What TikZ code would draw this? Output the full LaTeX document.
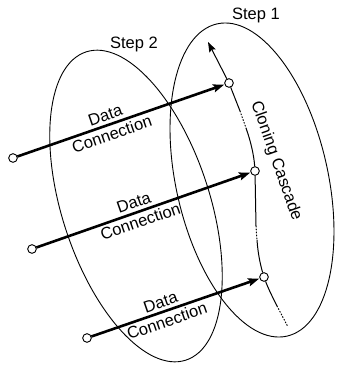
\documentclass[tikz,border=0pt]{standalone}
\usepackage{fontspec}
\setmainfont{Liberation Sans}
\usetikzlibrary{arrows.meta}

\begin{document}
\begin{tikzpicture}[x=1pt,y=1pt,
  every node/.style={font=\fontsize{16.5}{20}\selectfont},
  ring/.style={line width=0.9pt},
  port/.style={circle,draw,fill=white,line width=0.8pt,inner sep=0pt,minimum size=8.5pt},
  conn/.style={line width=2.6pt,-{Stealth[length=11pt,width=8pt,inset=2pt]},shorten >=0.5pt},
  lbl/.style={sloped,align=center,inner sep=0pt},
  casc/.style={line width=1pt},
  gap/.style={line width=1pt,dotted,line cap=round}]
\useasboundingbox (0,0) rectangle (337,-365);

% the two step regions
\draw[ring,rotate around={17.9:(136,-206)}] (136,-206) ellipse [x radius=74pt, y radius=162pt];
\draw[ring,rotate around={12.6:(252,-180)}] (252,-180) ellipse [x radius=76pt, y radius=160pt];

% cascade endpoints
\node[port] (r1) at (229,-83) {};
\node[port] (r2) at (255,-171) {};
\node[port] (r3) at (264,-277) {};
\coordinate (top) at (208,-42);
\coordinate (a1) at (240,-111);
\coordinate (b1) at (246,-128);
\coordinate (a2) at (256,-226);
\coordinate (b2) at (257,-240);
\coordinate (a3) at (277,-306);
\coordinate (b3) at (288,-327);

% cloning cascade line
\draw[casc,-{Stealth[length=10pt,width=7pt,inset=1.5pt]}] (r1) -- (top);
\draw[casc] (r1) -- (a1);
\draw[gap] (a1) -- (b1);
\draw[casc] (b1) .. controls (251,-142) and (254,-156) .. (r2);
\draw[casc] (r2) -- (a2);
\draw[gap] (a2) -- (b2);
\draw[casc] (b2) .. controls (258,-255) and (261,-267) .. (r3);
\draw[casc] (r3) .. controls (268,-288) and (273,-298) .. (a3);
\draw[gap] (a3) -- (b3);

% data sources
\node[port] (l1) at (13,-158) {};
\node[port] (l2) at (32,-249) {};
\node[port] (l3) at (87,-338) {};

\draw[conn] (l1) -- (r1) node[lbl,pos=0.44] {Data\\Connection};
\draw[conn] (l2) -- (r2) node[lbl,pos=0.47] {Data\\Connection};
\draw[conn] (l3) -- (r3) node[lbl,pos=0.43] {Data\\Connection};
\node[port] at (l1) {};
\node[port] at (l2) {};
\node[port] at (l3) {};
\node[port] at (r1) {};
\node[port] at (r2) {};
\node[port] at (r3) {};

% labels
\node (s1) at (256,-15) {Step 1};
\node (s2) at (134,-44) {Step 2};
\node[rotate=-70.6] (cc) at (276,-161) {Cloning Cascade};
\end{tikzpicture}
\end{document}
